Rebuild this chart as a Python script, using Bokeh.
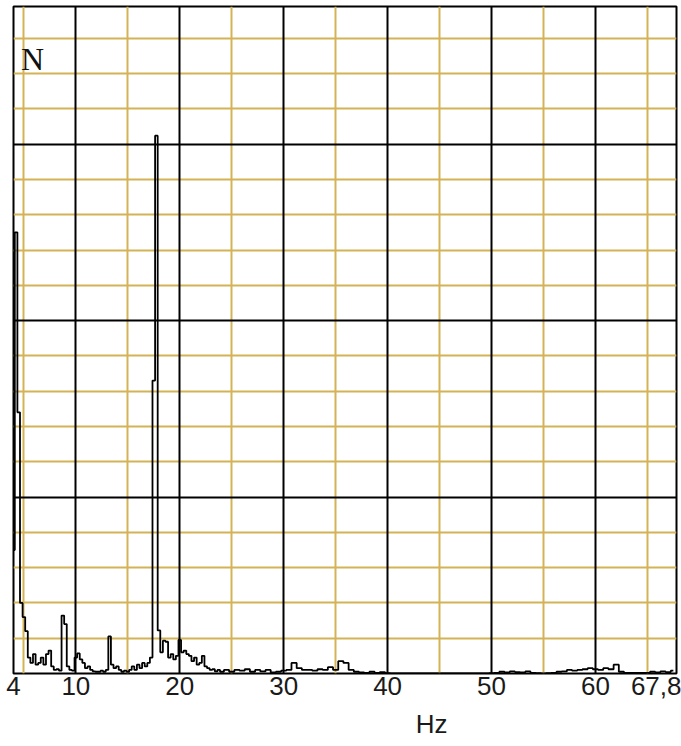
from bokeh.plotting import figure
from bokeh.models import Range1d, FixedTicker, Grid, Label
from bokeh.embed import file_html
from bokeh.resources import INLINE

# ---- data ----
freq_low = [4.0, 4.25, 4.5, 4.75, 5.0, 5.25, 5.5, 5.75, 6.0, 6.25, 6.5, 6.75,
            7.0, 7.25, 7.5, 7.75, 8.0, 8.25, 8.5, 8.75, 9.0, 9.25, 9.5, 9.75,
            10.0, 10.25, 10.5, 10.75, 11.0, 11.25, 11.5, 11.75, 12.0, 12.25, 12.5, 12.75,
            13.0, 13.25, 13.5, 13.75, 14.0, 14.25, 14.5, 14.75, 15.0, 15.25, 15.5, 15.75,
            16.0, 16.25, 16.5, 16.75, 17.0, 17.25, 17.5, 17.75, 18.0, 18.25, 18.5, 18.75,
            19.0, 19.25, 19.5, 19.75, 20.0, 20.25, 20.5, 20.75, 21.0, 21.25, 21.5, 21.75,
            22.0, 22.25, 22.5, 22.75, 23.0, 23.25, 23.5, 23.75, 24.0]
amp_low = [3.5, 12.5, 7.4, 2.0, 1.6, 1.2, 0.45, 0.3, 0.55, 0.25, 0.3, 0.45,
           0.25, 0.55, 0.65, 0.2, 0.1, 0.12, 0.08, 1.64, 1.4, 0.2, 0.1, 0.08,
           0.45, 0.57, 0.4, 0.3, 0.15, 0.2, 0.1, 0.06, 0.05, 0.05, 0.08, 0.05,
           0.1, 1.05, 0.25, 0.15, 0.2, 0.1, 0.05, 0.08, 0.05, 0.1, 0.2, 0.1,
           0.25, 0.15, 0.3, 0.2, 0.3, 0.45, 8.3, 15.24, 1.22, 0.6, 0.93, 0.9,
           0.45, 0.55, 0.4, 0.5, 0.95, 0.6, 0.65, 0.55, 0.5, 0.35, 0.45, 0.25,
           0.3, 0.5, 0.2, 0.15, 0.1, 0.12, 0.06, 0.1, 0.05]

freq_high = [24.5, 25.0, 25.5, 26.0, 26.5, 27.0, 27.5, 28.0, 28.5, 29.0, 29.5, 30.0,
             30.5, 31.0, 31.5, 32.0, 32.5, 33.0, 33.5, 34.0, 34.5, 35.0, 35.5, 36.0,
             36.5, 37.0, 37.5, 38.0, 38.5, 39.0, 39.5, 40.0, 40.5, 41.0, 41.5, 42.0,
             42.5, 43.0, 43.5, 44.0, 44.5, 45.0, 45.5, 46.0, 46.5, 47.0, 47.5, 48.0,
             48.5, 49.0, 49.5, 50.0, 50.5, 51.0, 51.5, 52.0, 52.5, 53.0, 53.5, 54.0,
             54.5, 55.0, 55.5, 56.0, 56.5, 57.0, 57.5, 58.0, 58.5, 59.0, 59.5, 60.0,
             60.5, 61.0, 61.5, 62.0, 62.5, 63.0, 63.5, 64.0, 64.5, 65.0, 65.5, 66.0,
             66.5, 67.0, 67.5]
amp_high = [0.1, 0.05, 0.1, 0.08, 0.12, 0.05, 0.1, 0.06, 0.1, 0.03, 0.05, 0.08,
            0.1, 0.3, 0.15, 0.1, 0.1, 0.08, 0.12, 0.1, 0.18, 0.1, 0.35, 0.3,
            0.1, 0.05, 0.03, 0.02, 0.05, 0.02, 0.04, 0.01, 0.0, 0.0, 0.0, 0.0,
            0.0, 0.0, 0.0, 0.0, 0.0, 0.0, 0.0, 0.0, 0.0, 0.0, 0.0, 0.0,
            0.0, 0.0, 0.0, 0.01, 0.02, 0.05, 0.03, 0.06, 0.04, 0.03, 0.06, 0.02,
            0.01, 0.0, 0.01, 0.02, 0.05, 0.06, 0.1, 0.08, 0.1, 0.12, 0.15, 0.12,
            0.1, 0.15, 0.12, 0.25, 0.05, 0.02, 0.02, 0.02, 0.02, 0.02, 0.05, 0.03,
            0.06, 0.04, 0.08]

freq = freq_low + freq_high
amp = amp_low + amp_high

x_tick_values = [4, 10, 20, 30, 40, 50, 60, 67.8]
x_tick_labels = {67.8: "67,8"}
x_title = "Hz"
x_major_grid = [10, 20, 30, 40, 50, 60]
x_minor_grid = [5, 15, 25, 35, 45, 55, 65]
y_major_grid = [5, 10, 15]
y_minor_grid = [1, 2, 3, 4, 6, 7, 8, 9, 11, 12, 13, 14, 16, 17, 18]

ORANGE = "#d3b356"

p = figure(width=681, height=746, output_backend="svg", toolbar_location=None,
           x_range=Range1d(4, 67.8), y_range=Range1d(0, 18.9),
           y_axis_location=None,
           min_border_left=13, min_border_right=5, min_border_top=6,
           min_border_bottom=73)
p.background_fill_color = "white"
p.border_fill_color = "white"
p.outline_line_color = "black"
p.outline_line_width = 2

# x axis
ax = p.xaxis[0]
ax.ticker = FixedTicker(ticks=x_tick_values)
ax.major_label_overrides = x_tick_labels
ax.axis_line_color = None
ax.major_tick_line_color = None
ax.minor_tick_line_color = None
ax.major_tick_out = 0
ax.major_tick_in = 0
ax.minor_tick_out = 0
ax.minor_tick_in = 0
ax.major_label_text_font = "Liberation Sans"
ax.major_label_text_font_size = "26px"
ax.major_label_text_color = "#1a1a1a"
ax.major_label_standoff = 3
# the unit label sits right of centre in the original; shift it with no-break spaces
ax.axis_label = "\u00a0" * 24 + x_title
ax.axis_label_standoff = 11
ax.axis_label_text_font = "Liberation Sans"
ax.axis_label_text_font_size = "26px"
ax.axis_label_text_font_style = "normal"
ax.axis_label_text_color = "#1a1a1a"

# grids: remove the defaults, then orange minor lines and black major lines
p.xgrid[0].visible = False
p.ygrid[0].visible = False
for dim, ticks, color in ((0, x_minor_grid, ORANGE), (1, y_minor_grid, ORANGE),
                          (0, x_major_grid, "black"), (1, y_major_grid, "black")):
    p.add_layout(Grid(dimension=dim, ticker=FixedTicker(ticks=ticks),
                      grid_line_color=color, grid_line_width=2, level="underlay"))

p.step(freq, amp, mode="center", line_color="black", line_width=1.8)

p.add_layout(Label(x=4.71, y=17.42, text="N", text_align="left",
                   text_baseline="alphabetic", text_font="Liberation Serif",
                   text_font_size="32px", text_color="#111111"))

open("out.html", "w").write(file_html(p, INLINE))
